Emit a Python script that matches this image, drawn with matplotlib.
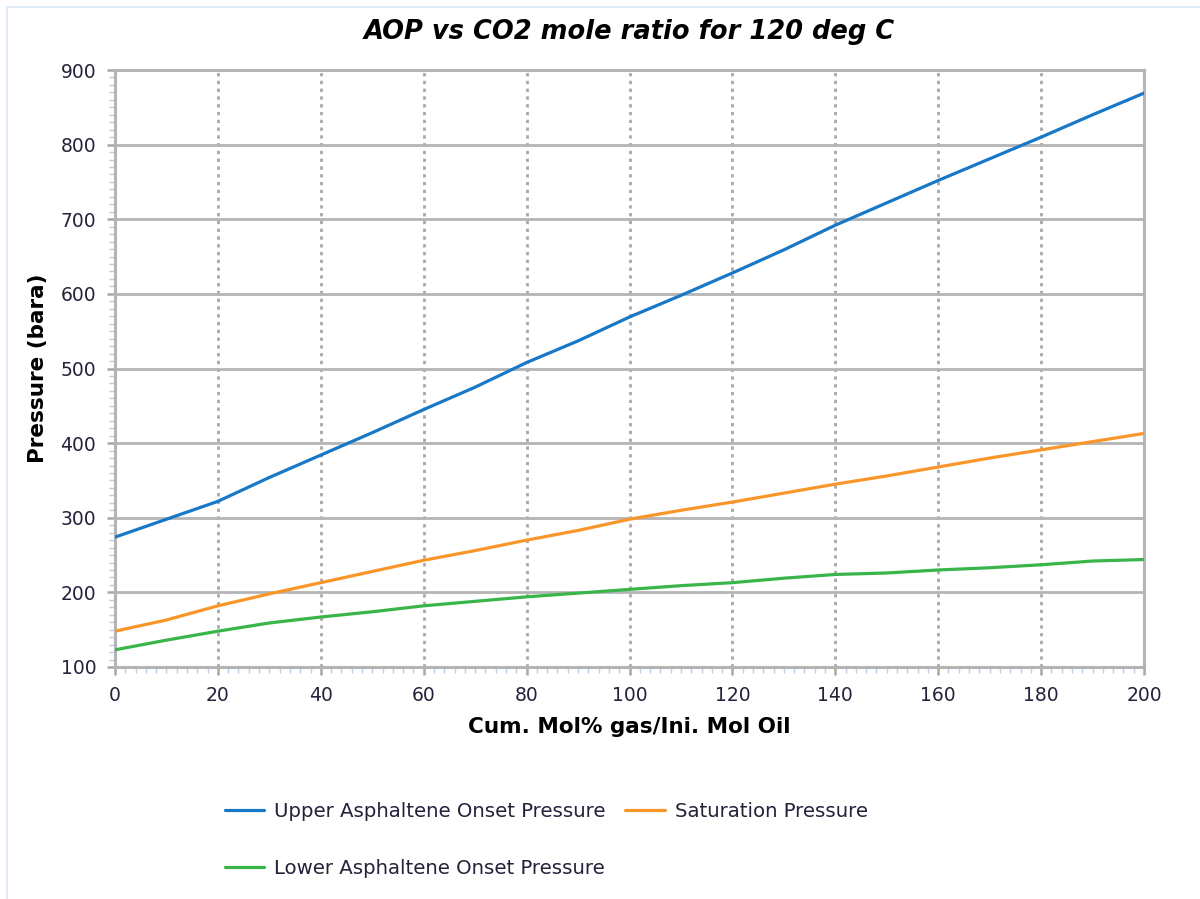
import matplotlib
matplotlib.use("Agg")
import matplotlib.pyplot as plt
from matplotlib.ticker import MultipleLocator
from matplotlib.patches import Rectangle

# ---- data ----
x_vals = [0, 10, 20, 30, 40, 50, 60, 70, 80, 90, 100,
          110, 120, 130, 140, 150, 160, 170, 180, 190, 200]
upper_aop = [274, 298, 322, 354, 384, 414, 445, 475, 508, 537, 569,
             598, 628, 659, 692, 722, 752, 781, 810, 840, 869]
saturation = [148, 163, 182, 198, 213, 228, 243, 256, 270, 283, 298,
              310, 321, 333, 345, 356, 368, 380, 391, 402, 413]
lower_aop = [123, 136, 148, 159, 167, 174, 182, 188, 194, 199, 204,
             209, 213, 219, 224, 226, 230, 233, 237, 242, 244]

series_names = ["Upper Asphaltene Onset Pressure",
                "Saturation Pressure",
                "Lower Asphaltene Onset Pressure"]
colors = ["#1878c8", "#f9962a", "#3ab54a"]

title = "AOP vs CO2 mole ratio for 120 deg C"
xlabel = "Cum. Mol% gas/Ini. Mol Oil"
ylabel = "Pressure (bara)"

W, H = 1200, 899
fig = plt.figure(figsize=(W / 100, H / 100), dpi=100)

# light frame around the chart
fig.patches.append(Rectangle((7 / W, -0.01), 1.05, 1 - 7 / H + 0.01,
                             transform=fig.transFigure, fill=False,
                             edgecolor="#dce8f6", linewidth=1.2))

ax = fig.add_axes([115 / W, 1 - 667 / H, (1144 - 115) / W, (667 - 70) / H])
ax.set_axisbelow(True)

lines = {}
for name, ys, c in zip(series_names, [upper_aop, saturation, lower_aop], colors):
    lines[name], = ax.plot(x_vals, ys, color=c, lw=2.3, solid_capstyle="round", zorder=3)

ax.set_xlim(0, 200)
ax.set_ylim(100, 900)
ax.xaxis.set_major_locator(MultipleLocator(20))
ax.xaxis.set_minor_locator(MultipleLocator(2))
ax.yaxis.set_major_locator(MultipleLocator(100))
ax.yaxis.set_minor_locator(MultipleLocator(10))

ax.grid(axis="y", which="major", color="#b4b4b4", lw=2.0, ls="-")
ax.grid(axis="x", which="major", color="#a8a8a8", lw=2.0, ls=(0, (1.2, 1.6)))

for s in ax.spines.values():
    s.set_color("#b4b4b4")
    s.set_linewidth(2.2)
    s.set_zorder(2.6)

label_color = "#22223a"
ax.tick_params(axis="both", which="major", direction="out", length=6, width=1.8,
               color="#a8a8a8", labelsize=13.5, labelcolor=label_color)
ax.tick_params(axis="y", which="major", pad=7.5)
ax.tick_params(axis="x", which="major", pad=8)
ax.tick_params(axis="both", which="minor", direction="out", length=4, width=1,
               color="#b8cdea")

ax.set_title(title, fontsize=18.5, fontweight="bold", fontstyle="italic",
             color="black", pad=22)
ax.set_xlabel(xlabel, fontsize=15.5, fontweight="bold", color="black", labelpad=8)
ax.set_ylabel(ylabel, fontsize=15.5, fontweight="bold", color="black", labelpad=9)

handles = [lines[series_names[0]], lines[series_names[2]], lines[series_names[1]]]
labels = [series_names[0], series_names[2], series_names[1]]
fig.legend(handles, labels, loc="upper left", bbox_to_anchor=(207 / W, 1 - 784 / H),
           ncol=2, frameon=False, fontsize=14.2, handlelength=2.0,
           handletextpad=0.5, columnspacing=1.0, labelspacing=1.95,
           labelcolor=label_color)

fig.savefig("out.png", dpi=100)
